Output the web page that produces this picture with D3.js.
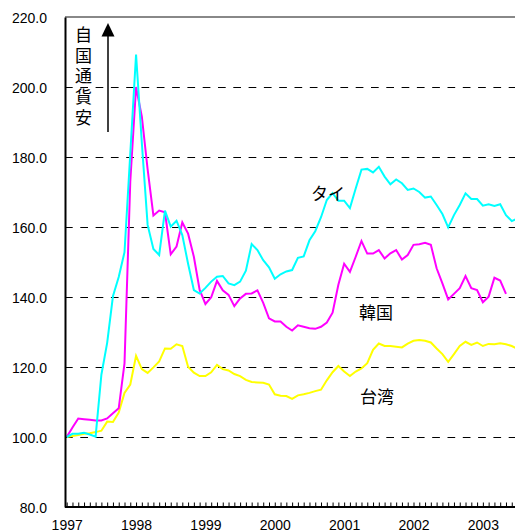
<!DOCTYPE html>
<html>
<head>
<meta charset="utf-8">
<script src="https://cdn.jsdelivr.net/npm/d3@7/dist/d3.min.js"></script>
<style>
  html, body { margin: 0; padding: 0; background: #fff; }
  svg { display: block; }
</style>
</head>
<body>
<div id="chart"></div>
<script>
// Monthly index (0 = Jan 1997), values indexed to Jan 1997 = 100
const yearLabels = ["1997", "1998", "1999", "2000", "2001", "2002", "2003"];
const yTickValues = [80, 100, 120, 140, 160, 180, 200, 220];
const gridValues = [100, 120, 140, 160, 180, 200];

const thailand = [100, 100.9, 100.9, 101.2, 100.7, 100.1, 117.8, 126.9, 140.2, 145.7,
  152.8, 181, 209.3, 184, 160.6, 153.7, 152, 164.7, 160.1, 161.8,
  157.7, 149.5, 142, 141, 142.6, 144.4, 145.8, 146, 143.9, 143.4,
  144.4, 147.5, 155.1, 153.4, 150.5, 148.5, 145.2, 146.5, 147.3, 147.7,
  151.2, 151.6, 156.2, 158.8, 162.8, 167.7, 169.7, 167.5, 167.5, 165.4,
  171, 176.4, 176.6, 175.6, 177.2, 174.4, 172.2, 173.6, 172.5, 170.6,
  171, 170, 168.4, 168.7, 166.3, 163.7, 159.9, 163.4, 166.3, 169.6,
  168, 168, 166.1, 166.5, 166, 166.5, 163.4, 161.7, 162.4];

const korea = [100, 102.7, 105.3, 105.1, 104.9, 104.7, 104.7, 105.3, 106.8, 108.2,
  121, 173, 200, 191.5, 176.5, 163.3, 164.7, 164.2, 152.2, 154.4,
  161.3, 158.1, 151.5, 142, 138, 139.9, 144.6, 141.9, 140.6, 137.4,
  139.6, 140.9, 141, 141.9, 138.3, 133.9, 133, 133, 131.5, 130.4,
  131.9, 131.5, 131.1, 130.9, 131.5, 132.7, 135.5, 143.5, 149.5, 147.2,
  151.5, 156, 152.4, 152.4, 153.4, 151, 152.5, 153.4, 150.7, 152,
  154.9, 155.1, 155.5, 154.9, 148.2, 143.9, 139.3, 140.9, 142.5, 146,
  142.5, 142, 138.5, 140.1, 145.5, 144.7, 140.9];

const taiwan = [100, 100.3, 100.6, 100.9, 101.1, 101.4, 101.8, 104.4, 104.3, 107,
  112.6, 115, 123.2, 119.4, 118.3, 119.9, 121.6, 125.3, 125.2, 126.5,
  126, 120.1, 118.4, 117.4, 117.4, 118.5, 120.6, 119.4, 119, 118,
  117.4, 116.3, 115.7, 115.6, 115.5, 115, 112.2, 111.8, 111.7, 110.9,
  111.9, 112.2, 112.6, 113.1, 113.5, 116.2, 118.5, 120.3, 118.7, 117.4,
  118.7, 119.6, 121.1, 124.9, 126.7, 126, 126, 125.8, 125.6, 126.7,
  127.5, 127.7, 127.5, 127, 125.3, 123.7, 121.5, 123.7, 126, 127.2,
  126.3, 127, 126, 126.6, 126.5, 126.8, 126.5, 126, 125.2];

const seriesNames = ["台湾", "韓国", "タイ"];
const seriesColors = ["#ffff00", "#ff00ff", "#00ffff"];
const seriesData = [taiwan, korea, thailand];
const axisTitle = "自国通貨安";

const W = 515, H = 532;
const plotLeft = 65, plotTop = 17, plotBottom = 507;

const svg = d3.select("#chart").append("svg")
  .attr("width", W).attr("height", H);

const x = d3.scaleLinear().domain([0, 72]).range([66.7, 66.7 + 72 * 5.78]);
const y = d3.scaleLinear().domain([80, 220]).range([plotBottom, plotTop]);

const cjk = "'Noto Sans CJK JP', 'Noto Sans', sans-serif";
const latin = "'Liberation Sans', Arial, sans-serif";

// Grid lines (dashed)
svg.append("g").selectAll("line").data(gridValues).join("line")
  .attr("x1", plotLeft).attr("x2", W)
  .attr("y1", d => Math.round(y(d)) + 0.5).attr("y2", d => Math.round(y(d)) + 0.5)
  .attr("stroke", "#000").attr("stroke-width", 1)
  .attr("stroke-dasharray", "7.7,7.6");

// Top border
svg.append("line")
  .attr("x1", plotLeft).attr("x2", W)
  .attr("y1", y(220)).attr("y2", y(220))
  .attr("stroke", "#888").attr("stroke-width", 2);

// Series lines
const line = d3.line().x((d, i) => x(i)).y(d => y(d));
svg.append("clipPath").attr("id", "plotclip")
  .append("rect").attr("x", plotLeft).attr("y", 0).attr("width", W - plotLeft).attr("height", plotBottom);
svg.append("g").attr("clip-path", "url(#plotclip)")
  .selectAll("path").data(seriesData).join("path")
  .attr("d", d => line(d))
  .attr("fill", "none")
  .attr("stroke", (d, i) => seriesColors[i])
  .attr("stroke-width", 2)
  .attr("stroke-linejoin", "miter");

// Y axis
const yAxis = svg.append("g").attr("transform", `translate(${plotLeft},0)`)
  .call(d3.axisLeft(y).tickValues(yTickValues).tickSize(0).tickPadding(18)
    .tickFormat(d3.format(".1f")));
yAxis.select(".domain").attr("stroke", "#000").attr("stroke-width", 2);
yAxis.selectAll("text").attr("font-family", latin).attr("font-size", 14).attr("fill", "#000")
  .attr("dy", "0.4em");

// X axis: monthly ticks pointing up
const xTicks = svg.append("g").attr("transform", `translate(0,${plotBottom})`)
  .call(d3.axisBottom(x).tickValues(d3.range(0, 78)).tickSize(-4.5).tickFormat(""));
xTicks.select(".domain").attr("stroke", "#000").attr("stroke-width", 2)
  .attr("d", `M${plotLeft},0H${W}`);
xTicks.selectAll(".tick line").attr("stroke", "#000").attr("stroke-width", 1);

const xLabels = svg.append("g").attr("transform", `translate(0,${plotBottom})`)
  .call(d3.axisBottom(x).tickValues(d3.range(0, 73, 12)).tickSize(0).tickPadding(13)
    .tickFormat(d => yearLabels[d / 12]));
xLabels.select(".domain").remove();
xLabels.selectAll("text").attr("font-family", latin).attr("font-size", 14).attr("fill", "#000");

// Series labels
const labelPos = [[377, 395], [376, 311], [328, 192]];
svg.append("g").selectAll("text").data(seriesNames).join("text")
  .attr("x", (d, i) => labelPos[i][0]).attr("y", (d, i) => labelPos[i][1])
  .attr("text-anchor", "middle").attr("dominant-baseline", "central")
  .attr("font-family", cjk).attr("font-size", 17).attr("fill", "#000")
  .text(d => d);

// Vertical title (single vertical text)
svg.append("text")
  .attr("x", 83.5).attr("y", 26)
  .style("writing-mode", "vertical-rl")
  .style("letter-spacing", "3.7px")
  .attr("font-family", cjk).attr("font-size", 17).attr("fill", "#000")
  .text(axisTitle);

// Arrow
svg.append("line").attr("x1", 108).attr("x2", 108).attr("y1", 132).attr("y2", 34)
  .attr("stroke", "#000").attr("stroke-width", 1.5);
svg.append("path").attr("d", "M108,23L101.5,36.5L114.5,36.5Z").attr("fill", "#000");
</script>
</body>
</html>
